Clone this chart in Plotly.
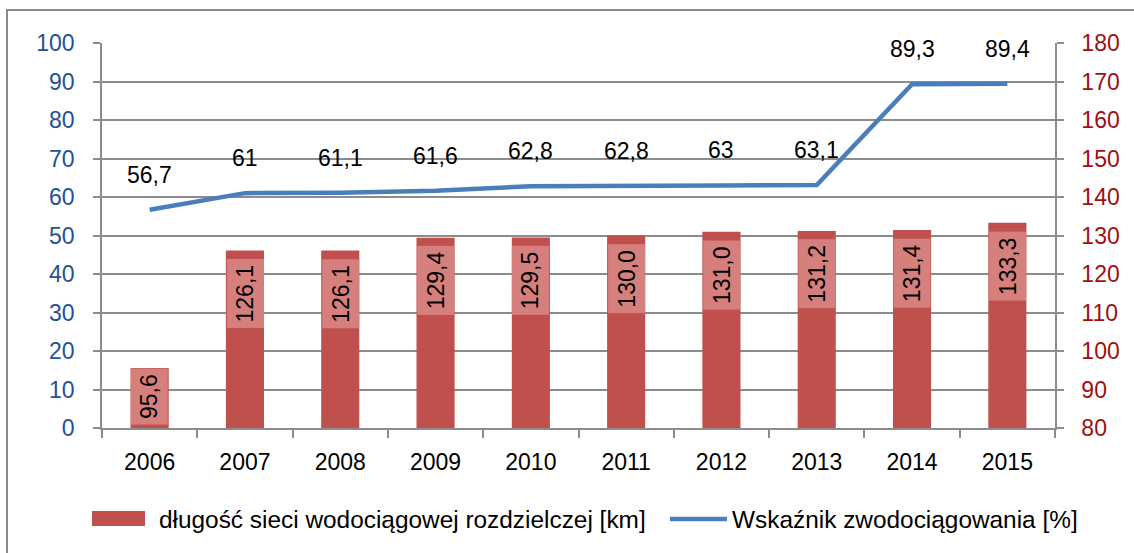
import plotly.graph_objects as go

years = ["2006", "2007", "2008", "2009", "2010", "2011", "2012", "2013", "2014", "2015"]
network_km = [95.6, 126.1, 126.1, 129.4, 129.5, 130.0, 131.0, 131.2, 131.4, 133.3]
coverage_pct = [56.7, 61, 61.1, 61.6, 62.8, 62.8, 63, 63.1, 89.3, 89.4]

bar_name = "długość sieci wodociągowej rozdzielczej [km]"
line_name = "Wskaźnik zwodociągowania [%]"

FONT = "Liberation Sans, Arial, sans-serif"
BAR_COLOR = "#C0504D"
LABEL_BG = "#D6807E"
LINE_COLOR = "#4A7EBB"
GRID = "#8C8C8C"
FS = 23
FS_LEG = 24.4

W, H = 1134, 553
ML, MR, MT, MB = 102, 79, 43, 125
plot_w = W - ML - MR
plot_h = H - MT - MB


def px(x):
    return (x - ML) / plot_w


def py(y):
    return (MT + plot_h - y) / plot_h


fig = go.Figure()
fig.add_trace(go.Bar(
    x=years, y=[v - 80 for v in network_km], base=80, yaxis="y2",
    name=bar_name, marker=dict(color=BAR_COLOR, line=dict(width=0)),
    width=0.4, hoverinfo="skip", showlegend=False,
))
fig.add_trace(go.Scatter(
    x=years, y=coverage_pct, yaxis="y", mode="lines", name=line_name,
    line=dict(color=LINE_COLOR, width=4.5), showlegend=False,
))

annotations = []
for i, v in enumerate(coverage_pct):
    annotations.append(dict(
        x=i, y=v, xref="x", yref="y", text=f"{v:g}".replace(".", ","),
        showarrow=False, yshift=35, font=dict(family=FONT, size=FS, color="#000000"),
    ))
for i, v in enumerate(network_km):
    bar_px = (v - 80) / 100 * plot_h
    txt = f"{v:.1f}".replace(".", ",")
    if bar_px < 90:
        ann = dict(y=v, yanchor="top", yshift=0)
    else:
        ann = dict(y=v, yanchor="top", yshift=-8)
    ann.update(dict(
        x=i, xref="x", yref="y2", text=txt, showarrow=False, textangle=-90,
        bgcolor=LABEL_BG, borderpad=5, font=dict(family=FONT, size=FS, color="#000000"),
    ))
    annotations.append(ann)

# legend (manual, to match the wide swatch)
annotations.append(dict(
    x=px(157), y=py(519), xref="paper", yref="paper", xanchor="left", yanchor="middle",
    text=bar_name, showarrow=False, font=dict(family=FONT, size=FS_LEG, color="#000000"),
))
annotations.append(dict(
    x=px(730), y=py(519), xref="paper", yref="paper", xanchor="left", yanchor="middle",
    text=line_name, showarrow=False, font=dict(family=FONT, size=FS_LEG, color="#000000"),
))

shapes = [
    dict(type="rect", xref="paper", yref="paper",
         x0=px(7), x1=px(1140), y0=py(560), y1=py(10),
         line=dict(color="#8C8C8C", width=2), layer="below"),
    dict(type="rect", xref="paper", yref="paper",
         x0=px(92), x1=px(145), y0=py(526), y1=py(511),
         line=dict(width=0), fillcolor=BAR_COLOR),
    dict(type="line", xref="paper", yref="paper",
         x0=px(670), x1=px(727), y0=py(519), y1=py(519),
         line=dict(color=LINE_COLOR, width=4.5)),
]

fig.update_layout(
    width=W, height=H,
    margin=dict(l=ML, r=MR, t=MT, b=MB),
    paper_bgcolor="white", plot_bgcolor="white",
    font=dict(family=FONT, size=FS, color="#000000"),
    bargap=0.6,
    xaxis=dict(
        type="category", showline=True, linecolor=GRID, linewidth=1.5,
        ticks="outside", tickson="boundaries", ticklen=8, tickcolor=GRID, tickwidth=1.5,
        showgrid=False, ticklabelstandoff=13, tickangle=0,
        tickfont=dict(size=FS, color="#000000"),
    ),
    yaxis=dict(
        range=[0, 100], dtick=10, showgrid=True, gridcolor=GRID, gridwidth=1.5,
        showline=True, linecolor=GRID, linewidth=1.5, ticks="outside", ticklen=7,
        tickcolor=GRID, tickwidth=1.5, ticklabelstandoff=14, zeroline=False,
        tickfont=dict(size=FS, color="#245193"),
    ),
    yaxis2=dict(
        range=[80, 180], dtick=10, overlaying="y", side="right", showgrid=False,
        showline=True, linecolor=GRID, linewidth=1.5, ticks="outside", ticklen=7,
        tickcolor=GRID, tickwidth=1.5, ticklabelstandoff=13, zeroline=False,
        tickfont=dict(size=FS, color="#A00F0F"),
    ),
    annotations=annotations,
    shapes=shapes,
    showlegend=False,
)

fig.write_html(
    "out.html",
    config={"displayModeBar": False},
    post_script="document.body.style.margin='0';document.body.style.overflow='hidden';",
)
